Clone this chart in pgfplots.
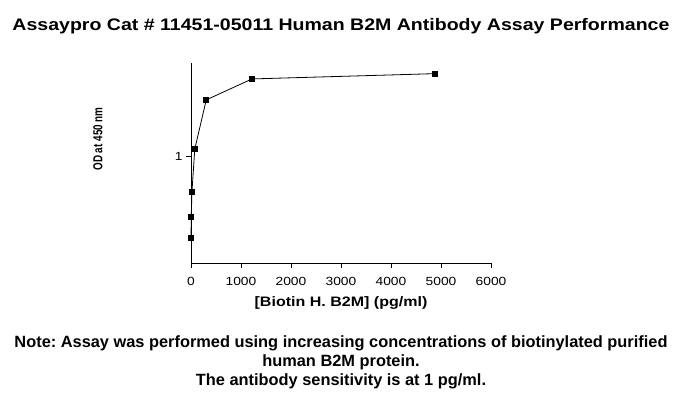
\documentclass[border=0pt]{standalone}
\usepackage{fontspec}
\usepackage{graphicx}
\setmainfont[FakeStretch=1.17]{Liberation Sans}
\newfontfamily\plainfont{Liberation Sans}
\usepackage{pgfplots}
\pgfplotsset{compat=1.18}
\newlength\nw
\newcommand\notefont{\plainfont\bfseries\fontsize{16.3}{20}\selectfont}
\begin{document}%
\frenchspacing%
\settowidth\nw{\notefont Note: Assay was performed using increasing concentrations of biotinylated purified}%
\pgfmathsetmacro\nf{653pt/\nw}%
\begin{tikzpicture}[x=1pt,y=1pt]
\path[use as bounding box] (0,0) rectangle (682,403);
\begin{axis}[
  at={(191pt,140pt)}, anchor=south west,
  scale only axis, width=300pt, height=200pt,
  xmin=0, xmax=6000, ymode=log, ymin=0.243, ymax=3.42,
  axis x line*=bottom, axis y line*=left,
  axis line style={-, line width=0.8pt},
  xtick={0,1000,...,6000}, ytick={1}, yticklabels={1}, yminorticks=false,
  tick align=outside, major tick length=5pt, tick style={black, line width=0.8pt},
  scaled x ticks=false, x tick label style={/pgf/number format/1000 sep={}, yshift=-6pt},
  /pgf/number format/assume math mode=true,
  ticklabel style={font=\fontsize{11.8}{14}\selectfont},
  xlabel={[Biotin H. B2M] (pg/ml)},
  xlabel style={at={(axis description cs:0.5,-0.2)}, anchor=center, font=\bfseries\fontsize{13.7}{16}\selectfont},
  ylabel={\scalebox{0.76}[1]{OD at 450 nm}},
  ylabel style={at={(axis description cs:-0.31,0.62)}, anchor=center, font=\plainfont\bfseries\fontsize{13}{15}\selectfont},
  clip=false
]
\addplot[black, line width=0.8pt, mark=square*, mark size=2.5pt] coordinates {
(1.2,0.340) (4.8,0.446) (19,0.626) (76,1.097) (305,2.10) (1220,2.77) (4880,2.97)
};
\end{axis}
\node[anchor=base, font=\bfseries\fontsize{16.7}{20}\selectfont] at (341,372) {Assaypro Cat \# 11451-05011 Human B2M Antibody Assay Performance};
\node[anchor=base, inner sep=0pt] at (341,55) {\scalebox{\nf}[1]{\notefont Note: Assay was performed using increasing concentrations of biotinylated purified}};
\node[anchor=base, inner sep=0pt] at (341,36) {\scalebox{\nf}[1]{\notefont human B2M protein.}};
\node[anchor=base, inner sep=0pt] at (341,17) {\scalebox{\nf}[1]{\notefont The antibody sensitivity is at 1 pg/ml.}};
\end{tikzpicture}%
\end{document}
